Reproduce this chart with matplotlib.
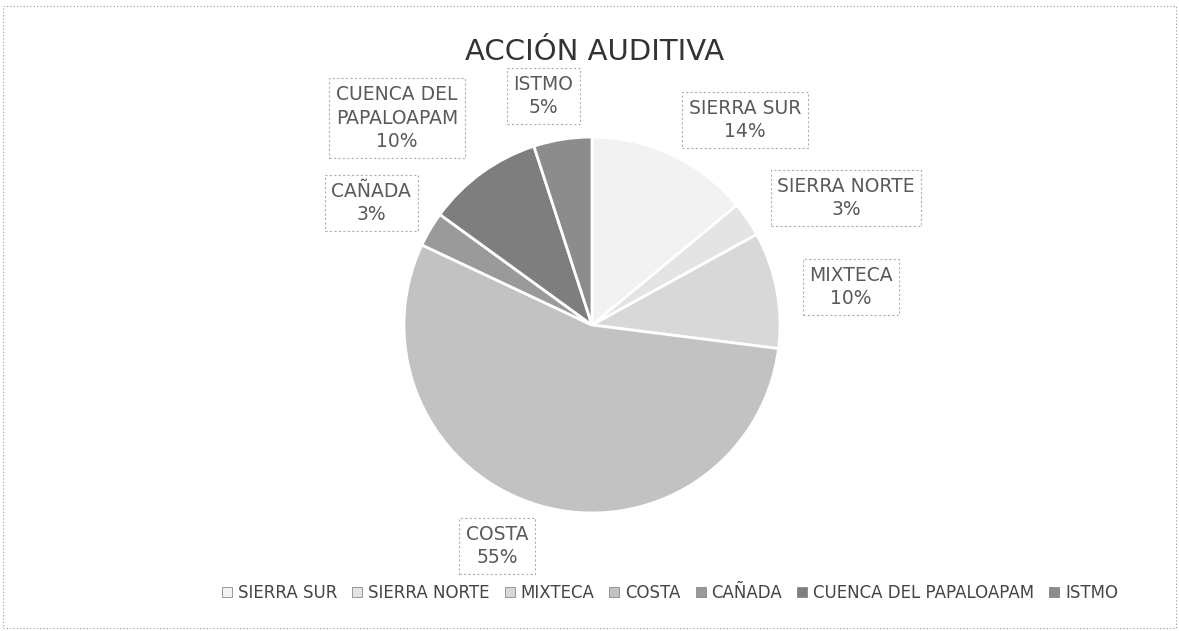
import matplotlib
matplotlib.use("Agg")
import matplotlib.pyplot as plt
from matplotlib.patches import Rectangle, Patch

categories = ["SIERRA SUR", "SIERRA NORTE", "MIXTECA", "COSTA", "CAÑADA",
              "CUENCA DEL PAPALOAPAM", "ISTMO"]
values = [14, 3, 10, 55, 3, 10, 5]
label_texts = ["SIERRA SUR\n14%", "SIERRA NORTE\n3%", "MIXTECA\n10%", "COSTA\n55%",
               "CAÑADA\n3%", "CUENCA DEL\nPAPALOAPAM\n10%", "ISTMO\n5%"]
colors = ["#f2f2f2", "#e4e4e4", "#d8d8d8", "#c2c2c2", "#9a9a9a", "#7e7e7e", "#8c8c8c"]

W, H = 1179, 631
plt.rcParams['font.family'] = ['DejaVu Sans']
fig = plt.figure(figsize=(W / 100, H / 100), dpi=100)

cx, cy, r = 592, 325, 188
ax = fig.add_axes([(cx - r) / W, (H - cy - r) / H, 2 * r / W, 2 * r / H])
wedges, _ = ax.pie(values, colors=colors, startangle=90, counterclock=False,
                   wedgeprops=dict(edgecolor="white", linewidth=2))
ax.set_xlim(-1, 1)
ax.set_ylim(-1, 1)
ax.set_aspect("equal")
ax.axis("off")

# label box centers in pixel coords
label_pos = [(745, 120), (846, 198), (851, 287), (497, 546),
             (371, 203), (397, 118), (543, 96)]
for txt, (px, py) in zip(label_texts, label_pos):
    fig.text(px / W, 1 - py / H, txt, ha="center", va="center", fontsize=13.5,
             color="#5a5a5a", linespacing=1.3,
             bbox=dict(boxstyle="square,pad=0.35", facecolor="white",
                       edgecolor="#b0b0b0", linestyle=(0, (2, 2)), linewidth=0.8))

fig.text(595 / W, 1 - 52 / H, "ACCIÓN AUDITIVA", ha="center", va="center",
         fontsize=21, color="#333333")

handles = [Patch(facecolor=c, edgecolor="#888888", linewidth=0.6) for c in colors]
fig.legend(handles, categories, loc="center", bbox_to_anchor=(670 / W, 1 - 593 / H),
           ncol=7, frameon=False, fontsize=12, handlelength=0.6, handleheight=0.6,
           handletextpad=0.35, columnspacing=0.9, labelcolor="#444444")

# faint dotted chart border
fig.add_artist(Rectangle((3 / W, 3 / H), (W - 6) / W, (H - 9) / H, transform=fig.transFigure,
                         fill=False, edgecolor="#999999", linestyle=(0, (1, 2)), linewidth=0.8))

fig.savefig("out.png", dpi=100)
